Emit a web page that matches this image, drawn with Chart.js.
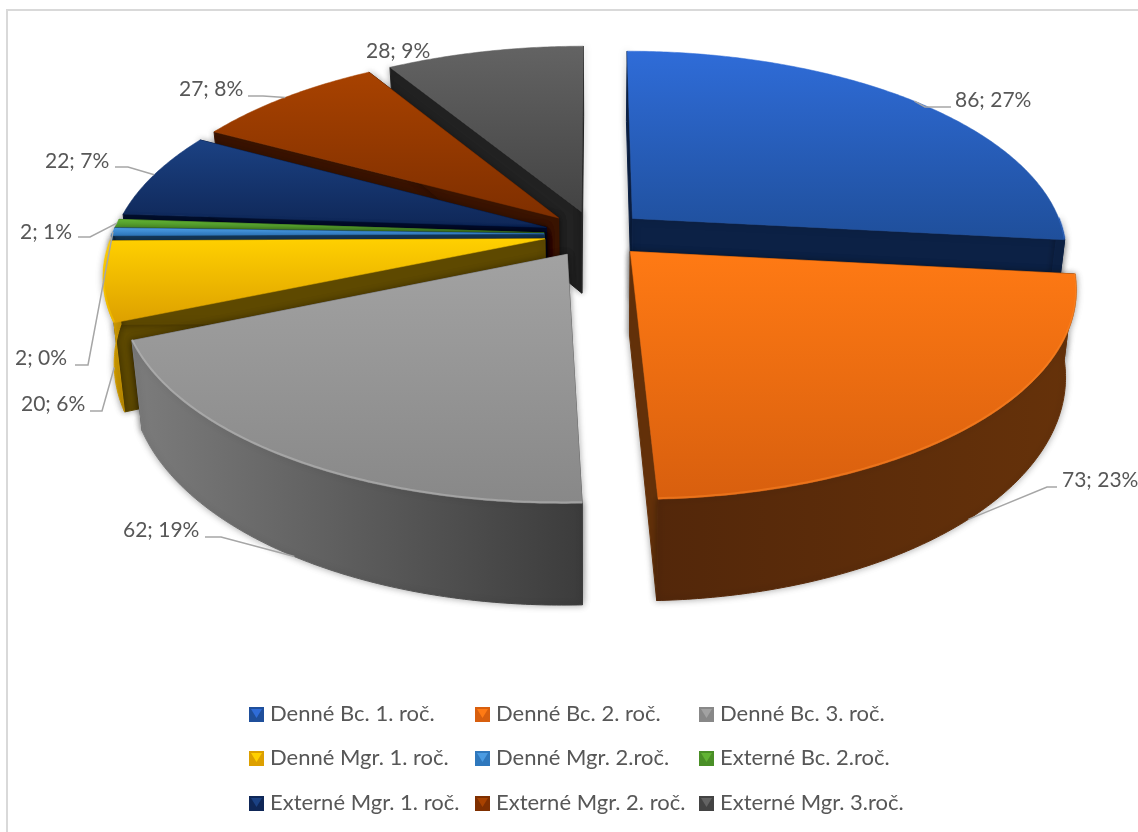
<!DOCTYPE html>
<html>
<head>
<meta charset="utf-8">
<title>Pie</title>
<script src="https://cdn.jsdelivr.net/npm/chart.js@4/dist/chart.umd.js"></script>
<style>
	html, body { margin: 0; padding: 0; background: #fff; overflow: hidden; }
	#wrap { position: absolute; left: 0; top: 0; width: 1138px; height: 832px; }
	#frame { position: absolute; left: 6px; top: 9px; right: -5px; bottom: -5px; border: 2px solid #d9d9d9; }
	canvas { filter: blur(0.4px); }
</style>
</head>
<body>
<div id="wrap">
	<div id="frame"></div>
	<canvas id="chart-area"></canvas>
</div>
<script>
// data
var categories = [
	"Denné Bc. 1. roč.", "Denné Bc. 2. roč.", "Denné Bc. 3. roč.",
	"Denné Mgr. 1. roč.", "Denné Mgr. 2.roč.", "Externé Bc. 2.roč.",
	"Externé Mgr. 1. roč.", "Externé Mgr. 2. roč.", "Externé Mgr. 3.roč."
];
var values = [86, 73, 62, 20, 2, 2, 22, 27, 28];
var percents = [27, 23, 19, 6, 0, 1, 7, 8, 9];

// colours: top face light, top face dark, radial wall, outer wall left, outer wall right
var topLight = ["#2f6cd8", "#ff7a14", "#a2a2a2", "#ffd000", "#4a9be2", "#62b334", "#1b4183", "#a84200", "#636363"];
var topDark = ["#1f4f9b", "#d85f0e", "#888888", "#dda000", "#2f78bd", "#4a8f27", "#0f2757", "#7f2f00", "#434343"];
var wallFlat = ["#0c2145", "#66320a", "#555555", "#5e4900", "#153a5c", "#2f5a19", "#031030", "#3b1400", "#222222"];
var wallLeft = ["#0c2145", "#53270a", "#7c7c7c", "#f2b600", "#1d4d78", "#3a6e20", "#0a1c40", "#4a1b00", "#2c2c2c"];
var wallRight = ["#0c2145", "#66320a", "#3c3c3c", "#b88800", "#1d4d78", "#3a6e20", "#0a1c40", "#4a1b00", "#2c2c2c"];
var rimLight = ["#3a78e0", "#ff8a2a", "#c4c4c4", "#ffd000", "#4a9be2", "#62b334", "#1b4183", "#a84200", "#636363"];

// text layout: text left, text middle, elbow x, elbow y, rim level (0 top edge, 1 bottom edge)
var labelLayout = [
	{x: 955, y: 100, ex: 925, ey: 107, from: 951, z: 0},
	{x: 1062, y: 480, ex: 1047, ey: 487, from: 1057, z: 1},
	{x: 123, y: 530, ex: 221, ey: 537, from: 205, z: 1},
	{x: 21, y: 404, ex: 102, ey: 411, from: 90, z: 1},
	{x: 15, y: 358, ex: 88, ey: 365, from: 75, z: 0},
	{x: 20, y: 232, ex: 90, ey: 237, from: 78, z: 0},
	{x: 45, y: 161, ex: 128, ey: 167, from: 115, z: 0},
	{x: 179, y: 89, ex: 263, ey: 96, from: 248, z: 0},
	{x: 366, y: 51}
];
var legendX = [249, 475, 699];
var legendY = [714, 758, 803];

var TEXT_COLOR = "#575757";
var FONT = '"Lato", "Open Sans", sans-serif';
var TILT = 200 / 432;   // vertical squash of the disc
var PERSP = 0.167;      // nearer parts look bigger
var DEPTH = 83;         // height of the wall
var EXPLODE = 0.118;    // share of the radius every slice moves out
var BASE_SHRINK = 0.022;

// where a point of a slice lands on the screen
function project(arc, angle, r, z) {
	var mid = (arc.startAngle + arc.endAngle) / 2;
	var R = arc.outerRadius;
	var u = EXPLODE * Math.cos(mid) + r * Math.cos(angle);
	var v = EXPLODE * Math.sin(mid) + r * Math.sin(angle);
	var f = 1 / (1 - PERSP * v);
	return {
		x: arc.x + R * u * f * (1 - BASE_SHRINK * z),
		y: arc.y + R * TILT * v * f + DEPTH * f * z
	};
}

function rimPoints(arc, z, from, to) {
	var pts = [];
	var steps = Math.max(2, Math.ceil((to - from) / 0.01));
	for (var i = 0; i <= steps; i++) {
		pts.push(project(arc, from + (to - from) * i / steps, 1, z));
	}
	return pts;
}

function fillPoly(ctx, pts) {
	ctx.beginPath();
	pts.forEach(function(p, i) {
		if (i === 0) ctx.moveTo(p.x, p.y);
		else ctx.lineTo(p.x, p.y);
	});
	ctx.closePath();
	ctx.fill();
	ctx.stroke();
}

class Arc3d extends Chart.ArcElement {
	static id = "arc3d";
	static defaults = Chart.ArcElement.defaults;

	draw(ctx) {
		var i = this.$context.dataIndex;
		var a0 = this.startAngle, a1 = this.endAngle;
		var self = this;
		ctx.save();
		ctx.shadowColor = "rgba(0,0,0,0.35)";
		ctx.shadowBlur = 7;
		ctx.lineWidth = 1;

		// the two cut faces
		[a0, a1].forEach(function(a) {
			ctx.fillStyle = ctx.strokeStyle = wallFlat[i];
			fillPoly(ctx, [
				project(self, a, 0, 0), project(self, a, 1, 0),
				project(self, a, 1, 1), project(self, a, 0, 1)
			]);
		});

		// outer wall, only the part that faces the viewer
		var from = Math.max(a0, 0), to = Math.min(a1, Math.PI);
		if (to > from) {
			var upper = rimPoints(this, 0, from, to);
			var lower = rimPoints(this, 1, from, to);
			var xs = upper.concat(lower).map(function(p) { return p.x; });
			var g = ctx.createLinearGradient(Math.min.apply(null, xs), 0, Math.max.apply(null, xs), 0);
			g.addColorStop(0, wallLeft[i]);
			g.addColorStop(1, wallRight[i]);
			ctx.fillStyle = ctx.strokeStyle = g;
			fillPoly(ctx, upper.concat(lower.reverse()));
		}
		ctx.shadowColor = "transparent";
		ctx.shadowBlur = 0;

		// top face
		var rim = rimPoints(this, 0, a0, a1);
		var top = [project(this, a0, 0, 0)].concat(rim);
		var ys = top.map(function(p) { return p.y; });
		var tg = ctx.createLinearGradient(0, Math.min.apply(null, ys), 0, Math.max.apply(null, ys));
		tg.addColorStop(0, topLight[i]);
		tg.addColorStop(1, topDark[i]);
		ctx.fillStyle = ctx.strokeStyle = tg;
		ctx.lineWidth = 0.5;
		fillPoly(ctx, top);

		// soft light edge along the front of the top face
		if (to > from) {
			ctx.strokeStyle = rimLight[i];
			ctx.globalAlpha = 0.45;
			ctx.lineWidth = 2;
			ctx.beginPath();
			rimPoints(this, 0, from, to).forEach(function(p, k) {
				if (k === 0) ctx.moveTo(p.x, p.y - 1);
				else ctx.lineTo(p.x, p.y - 1);
			});
			ctx.stroke();
			ctx.globalAlpha = 1;
		}
		ctx.restore();
	}
}

class Pie3dController extends Chart.PieController {
	static id = "pie3d";
	static defaults = { dataElementType: "arc3d" };

	// back slices first so the front ones cover them
	draw() {
		var ctx = this.chart.ctx;
		var arcs = this.getMeta().data.slice();
		arcs.sort(function(a, b) {
			return Math.sin((a.startAngle + a.endAngle) / 2) - Math.sin((b.startAngle + b.endAngle) / 2);
		});
		arcs.forEach(function(arc) { arc.draw(ctx); });
	}
}

Chart.register(Arc3d, Pie3dController);

var labelPlugin = {
	id: "sliceLabels",
	afterDatasetsDraw: function(chart) {
		var ctx = chart.ctx;
		var arcs = chart.getDatasetMeta(0).data;
		ctx.save();
		ctx.textBaseline = "middle";
		ctx.textAlign = "left";
		ctx.font = "21px " + FONT;
		arcs.forEach(function(arc, i) {
			var l = labelLayout[i];
			if (l.ex !== undefined) {
				var end = project(arc, (arc.startAngle + arc.endAngle) / 2, 1, l.z);
				ctx.strokeStyle = "#a6a6a6";
				ctx.lineWidth = 1.5;
				ctx.beginPath();
				ctx.moveTo(l.from, l.ey);
				ctx.lineTo(l.ex, l.ey);
				ctx.lineTo(end.x, end.y);
				ctx.stroke();
			}
			ctx.fillStyle = TEXT_COLOR;
			ctx.fillText(values[i] + "; " + percents[i] + "%", l.x, l.y);
		});
		ctx.restore();
	}
};

var legendPlugin = {
	id: "gridLegend",
	afterDraw: function(chart) {
		var ctx = chart.ctx;
		ctx.save();
		ctx.textBaseline = "middle";
		ctx.textAlign = "left";
		ctx.font = "22px " + FONT;
		chart.data.labels.forEach(function(label, i) {
			var x = legendX[i % 3], y = legendY[Math.floor(i / 3)];
			var size = 15, left = x, top = y - 7;
			ctx.fillStyle = topDark[i];
			ctx.fillRect(left, top, size, size);
			// little bevel, lit triangle from the top edge
			ctx.fillStyle = topLight[i];
			ctx.beginPath();
			ctx.moveTo(left + 2, top + 2);
			ctx.lineTo(left + size - 2, top + 2);
			ctx.lineTo(left + size / 2, top + size - 4);
			ctx.closePath();
			ctx.fill();
			ctx.fillStyle = TEXT_COLOR;
			ctx.fillText(label, x + 21, y);
		});
		ctx.restore();
	}
};

var config = {
	type: "pie3d",
	data: {
		labels: categories,
		datasets: [{
			data: values,
			backgroundColor: topLight,
			borderWidth: 0
		}]
	},
	options: {
		responsive: true,
		maintainAspectRatio: false,
		animation: false,
		radius: 432,
		layout: { padding: { left: 52, bottom: 364 } },
		plugins: {
			legend: { display: false },
			tooltip: { enabled: false }
		}
	},
	plugins: [labelPlugin, legendPlugin]
};

window.onload = function() {
	var ctx = document.getElementById("chart-area").getContext("2d");
	window.myPie = new Chart(ctx, config);
};
</script>
</body>
</html>
